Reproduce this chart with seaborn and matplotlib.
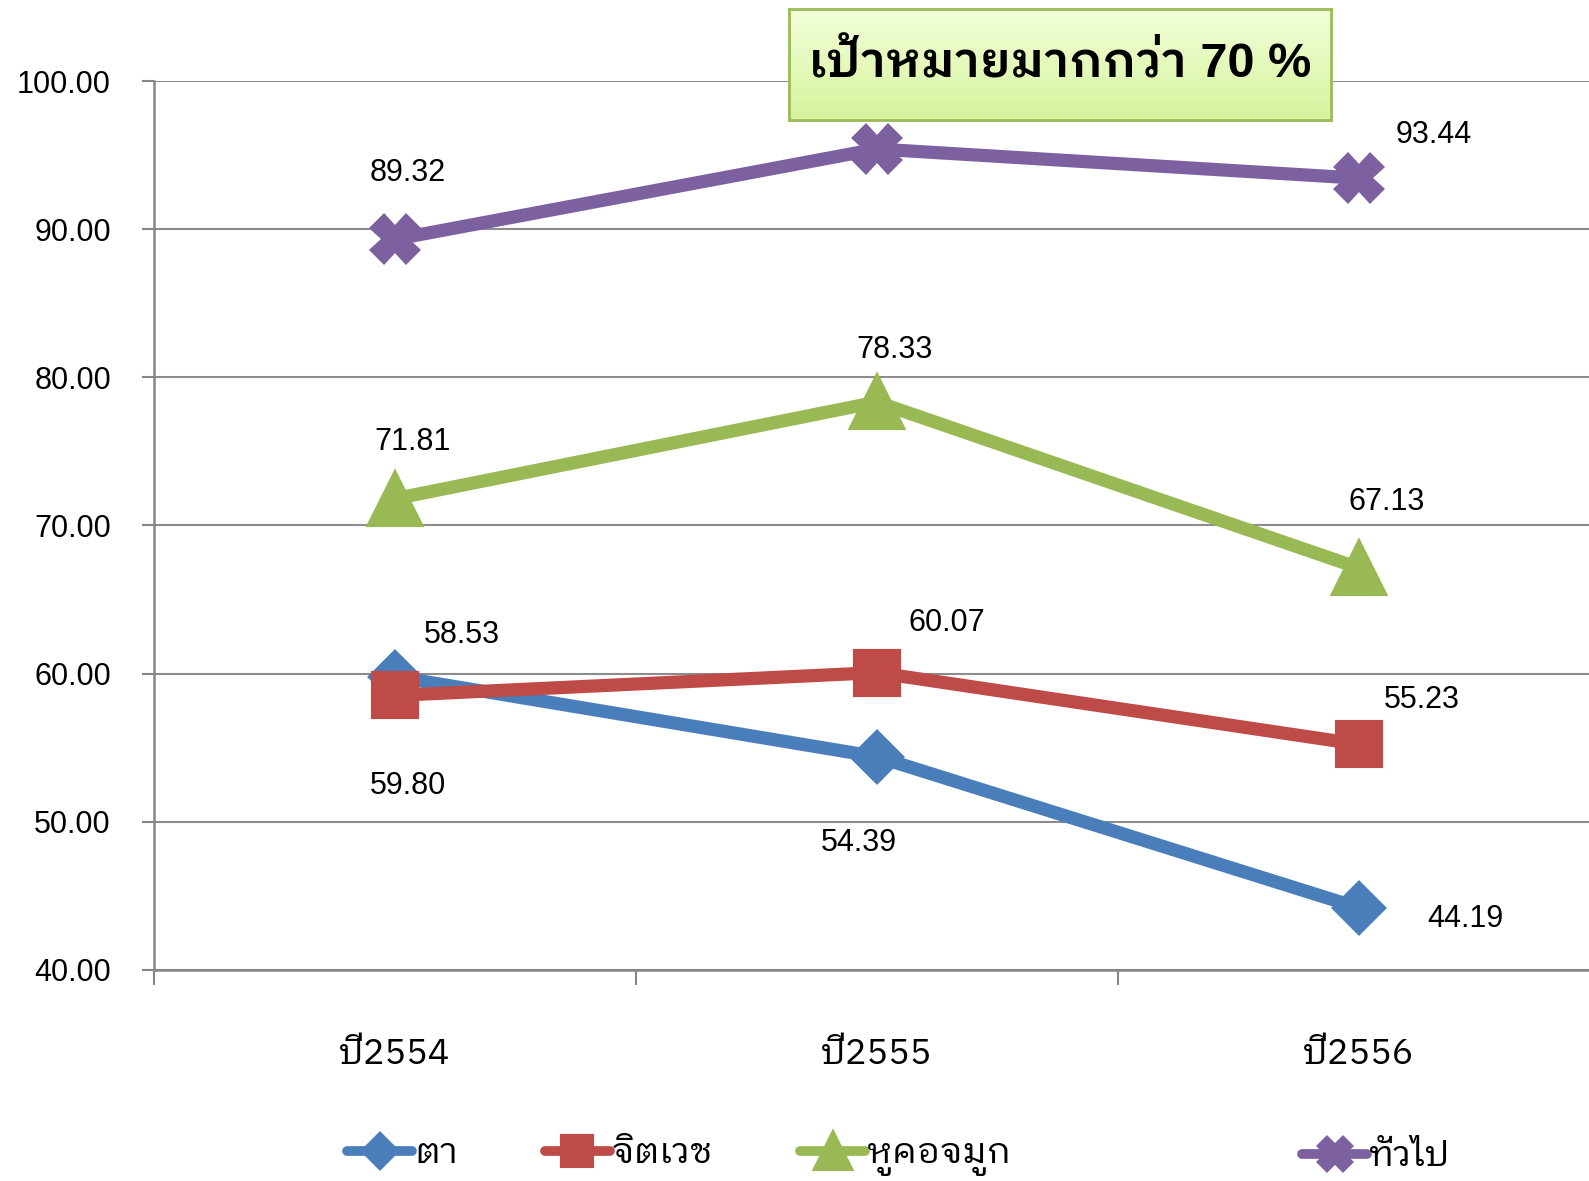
import matplotlib
matplotlib.use("Agg")
import matplotlib.pyplot as plt
import numpy as np
import pandas as pd
import seaborn as sns

# ---- data ----
years = ["ปี2554", "ปี2555", "ปี2556"]
depts = ["ตา", "จิตเวช", "หูคอจมูก", "ทั่วไป"]
eye = [59.80, 54.39, 44.19]
psych = [58.53, 60.07, 55.23]
ent = [71.81, 78.33, 67.13]
general = [89.32, 95.41, 93.44]
target_text = "เป้าหมายมากกว่า 70 %"

values = {"ตา": eye, "จิตเวช": psych, "หูคอจมูก": ent, "ทั่วไป": general}
df = pd.DataFrame([(d, y, v) for d in depts for y, v in zip(years, values[d])],
                  columns=["dept", "year", "value"])

colors = {"ตา": "#4A7EBB", "จิตเวช": "#BE4B48", "หูคอจมูก": "#98B954", "ทั่วไป": "#7D60A0"}
markers = {"ตา": "D", "จิตเวช": "s", "หูคอจมูก": "^", "ทั่วไป": "X"}
msizes = {"ตา": 25, "จิตเวช": 31, "หูคอจมูก": 37, "ทั่วไป": 33}
# label offsets in pixels from each point (x right, y up); None = hidden behind the target box
offsets = {
    "ตา": [(13, -108), (-18, -85), (105, -11)],
    "จิตเวช": [(66, 60), (69, 49), (62, 44)],
    "หูคอจมูก": [(17, 56), (17, 51), (27, 65)],
    "ทั่วไป": [(13, 65), None, (74, 43)],
}

sns.set_theme(style="white")
plt.rcParams["font.family"] = ["Liberation Sans", "IBM Plex Sans Thai Looped", "DejaVu Sans"]
thai_fam = ["Liberation Sans Narrow", "IBM Plex Sans Thai Looped", "DejaVu Sans"]

fig = plt.figure(figsize=(15.89, 11.81), dpi=100)
ax = fig.add_axes([0.0969, 0.1787, 0.91, 0.7527])

for d in depts:
    sub = df[df["dept"] == d]
    sns.lineplot(data=sub, x="year", y="value", ax=ax, color=colors[d], linewidth=9.5,
                 marker=markers[d], markersize=msizes[d], markeredgewidth=3,
                 markeredgecolor=colors[d], solid_joinstyle="round", label=d,
                 legend=False, zorder=3)

for line in ax.lines:
    line.set_markeredgecolor(line.get_color())
    line.set_solid_capstyle("round")

for d in depts:
    for i, v in enumerate(values[d]):
        if offsets[d][i] is None:
            continue
        dx, dy = offsets[d][i]
        ax.annotate(f"{v:.2f}", (i, v), xytext=(dx * 1.013, dy * 1.013),
                    textcoords="offset pixels", ha="center", va="center",
                    fontsize=22, color="black", zorder=4)

ax.set_xlim(-0.5, 2.5)
ax.set_ylim(40, 100)
ax.set_yticks([40, 50, 60, 70, 80, 90, 100])
ax.yaxis.set_major_formatter(matplotlib.ticker.FormatStrFormatter("%.2f"))
ax.grid(axis="y", color="#8C8C8C", linewidth=1.5)
ax.set_axisbelow(True)
for s in ["top", "right"]:
    ax.spines[s].set_visible(False)
for s in ["left", "bottom"]:
    ax.spines[s].set_color("#868686")
    ax.spines[s].set_linewidth(1.8)
ax.tick_params(axis="y", length=9, width=1.5, color="#868686", labelsize=22, pad=22,
               left=True, labelcolor="black")
ax.set_xticks([-0.5, 0.5, 1.5, 2.5], minor=True)
ax.tick_params(axis="x", which="minor", length=11, width=1.5, color="#868686", bottom=True)
ax.tick_params(axis="x", which="major", length=0, pad=48, labelcolor="black")
ax.set_xticks(range(3))
ax.set_xticklabels(years, fontsize=26, family=thai_fam)
ax.set_xlabel("")
ax.set_ylabel("")

# target box with gradient
bax = fig.add_axes([0.4965, 0.8984, 0.3411, 0.094], zorder=10)
grad = np.linspace(0, 1, 100).reshape(-1, 1)
cmap = matplotlib.colors.LinearSegmentedColormap.from_list("g", ["#F3FFD9", "#D6F39E"])
bax.imshow(grad, aspect="auto", cmap=cmap, extent=[0, 1, 0, 1], origin="upper")
bax.set_xticks([])
bax.set_yticks([])
for s in bax.spines.values():
    s.set_color("#9BBB59")
    s.set_linewidth(2)
bax.text(0.5, 0.5, target_text, ha="center", va="center", fontsize=35,
         transform=bax.transAxes, color="black", weight="semibold")

# legend
handles = ax.lines[:4]
leg_kw = dict(frameon=False, handlelength=1.8, handletextpad=0.05,
              prop={"family": thai_fam, "size": 26}, markerscale=0.7, labelcolor="black")
lg1 = fig.legend(handles[:3], depts[:3], loc="center left", bbox_to_anchor=(0.198, 0.021),
                 ncol=3, columnspacing=2.4, **leg_kw)
lg2 = fig.legend(handles[3:], depts[3:], loc="center left", bbox_to_anchor=(0.799, 0.021),
                 ncol=1, **leg_kw)
for lg in (lg1, lg2):
    for l in lg.get_lines():
        l.set_linewidth(7)

fig.savefig("out.png", dpi=100)
